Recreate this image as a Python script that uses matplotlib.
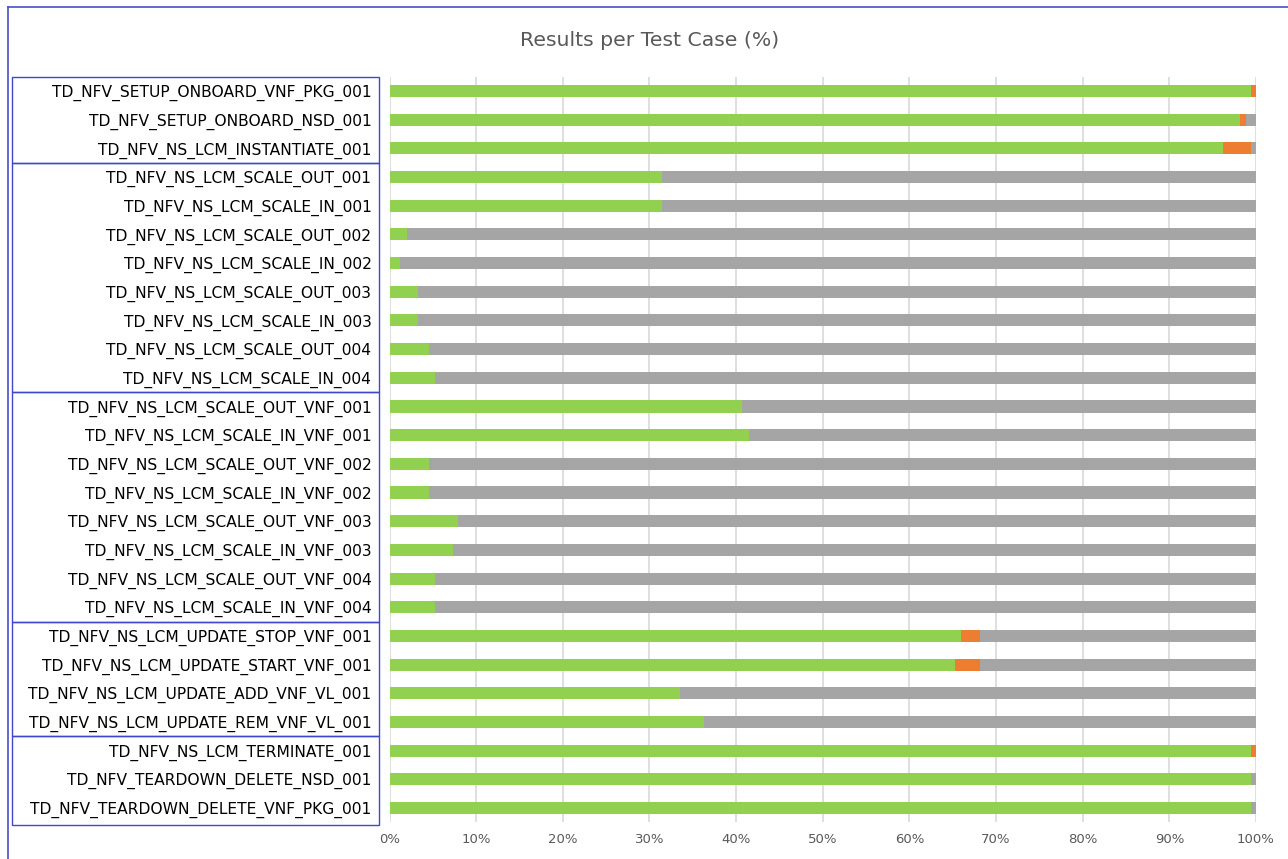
import matplotlib
matplotlib.use("Agg")
import matplotlib.pyplot as plt
from matplotlib.patches import Rectangle
from matplotlib.lines import Line2D
import numpy as np

categories = [
    "TD_NFV_SETUP_ONBOARD_VNF_PKG_001",
    "TD_NFV_SETUP_ONBOARD_NSD_001",
    "TD_NFV_NS_LCM_INSTANTIATE_001",
    "TD_NFV_NS_LCM_SCALE_OUT_001",
    "TD_NFV_NS_LCM_SCALE_IN_001",
    "TD_NFV_NS_LCM_SCALE_OUT_002",
    "TD_NFV_NS_LCM_SCALE_IN_002",
    "TD_NFV_NS_LCM_SCALE_OUT_003",
    "TD_NFV_NS_LCM_SCALE_IN_003",
    "TD_NFV_NS_LCM_SCALE_OUT_004",
    "TD_NFV_NS_LCM_SCALE_IN_004",
    "TD_NFV_NS_LCM_SCALE_OUT_VNF_001",
    "TD_NFV_NS_LCM_SCALE_IN_VNF_001",
    "TD_NFV_NS_LCM_SCALE_OUT_VNF_002",
    "TD_NFV_NS_LCM_SCALE_IN_VNF_002",
    "TD_NFV_NS_LCM_SCALE_OUT_VNF_003",
    "TD_NFV_NS_LCM_SCALE_IN_VNF_003",
    "TD_NFV_NS_LCM_SCALE_OUT_VNF_004",
    "TD_NFV_NS_LCM_SCALE_IN_VNF_004",
    "TD_NFV_NS_LCM_UPDATE_STOP_VNF_001",
    "TD_NFV_NS_LCM_UPDATE_START_VNF_001",
    "TD_NFV_NS_LCM_UPDATE_ADD_VNF_VL_001",
    "TD_NFV_NS_LCM_UPDATE_REM_VNF_VL_001",
    "TD_NFV_NS_LCM_TERMINATE_001",
    "TD_NFV_TEARDOWN_DELETE_NSD_001",
    "TD_NFV_TEARDOWN_DELETE_VNF_PKG_001",
]
passed = [99.4, 98.2, 96.2, 31.4, 31.4, 2.0, 1.2, 3.3, 3.3, 4.6, 5.2,
          40.7, 41.5, 4.6, 4.6, 7.9, 7.3, 5.2, 5.2,
          66.0, 65.3, 33.5, 36.3, 99.4, 99.4, 99.4]
failed = [0.6, 0.7, 3.2, 0, 0, 0, 0, 0, 0, 0, 0,
          0, 0, 0, 0, 0, 0, 0, 0,
          2.1, 2.8, 0, 0, 0.6, 0, 0]
group_sizes = [3, 8, 8, 4, 3]

not_run = [100 - p - f for p, f in zip(passed, failed)]

W, H = 1288, 859
fig = plt.figure(figsize=(W / 100, H / 100), dpi=100)
fig.patch.set_facecolor("white")

left, right = 389.5, 1256
top, bottom = 76.7, 822.3
ax = fig.add_axes([left / W, 1 - bottom / H, (right - left) / W, (bottom - top) / H])

n = len(categories)
y = np.arange(n)
bh = 0.42
green, orange, gray = "#92D050", "#ED7D31", "#A5A5A5"
ax.barh(y, passed, height=bh, color=green, zorder=3)
ax.barh(y, failed, left=passed, height=bh, color=orange, zorder=3)
ax.barh(y, not_run, left=[p + f for p, f in zip(passed, failed)], height=bh, color=gray, zorder=3)

ax.set_ylim(n - 0.5, -0.5)
ax.set_xlim(0, 100)
ax.set_xticks(np.arange(0, 101, 10))
ax.set_xticklabels([f"{v}%" for v in range(0, 101, 10)], color="#595959", fontsize=9.5)
ax.set_yticks(y)
ax.set_yticklabels(categories, fontsize=11.2, color="#000000")
ax.tick_params(axis="y", length=0, pad=13)
ax.tick_params(axis="x", length=0, pad=8)
ax.grid(axis="x", color="#D9D9D9", linewidth=1.2, zorder=0)
for s in ax.spines.values():
    s.set_visible(False)

fig.text(650 / W, 1 - 40 / H, "Results per Test Case (%)", ha="center", va="center",
         fontsize=14.7, color="#595959")

# outer border: only top and left edges are visible
border_color = "#4A4FC8"
fig.add_artist(Line2D([8 / W, 1.0], [1 - 7 / H, 1 - 7 / H], transform=fig.transFigure,
                      color=border_color, linewidth=1.2))
fig.add_artist(Line2D([8 / W, 8 / W], [1 - 7 / H, 0.0], transform=fig.transFigure,
                      color=border_color, linewidth=1.2))

# group boxes
row_h = (bottom - top) / n
start = 0
for g in group_sizes:
    y0 = top + start * row_h
    y1 = top + (start + g) * row_h
    if start + g == n:
        y1 = 825
    fig.patches.append(Rectangle((12 / W, 1 - y1 / H), (379 - 12) / W, (y1 - y0) / H,
                                 transform=fig.transFigure, fill=False,
                                 edgecolor="#3F48CC", linewidth=1.0))
    start += g

fig.savefig("out.png", dpi=100)
